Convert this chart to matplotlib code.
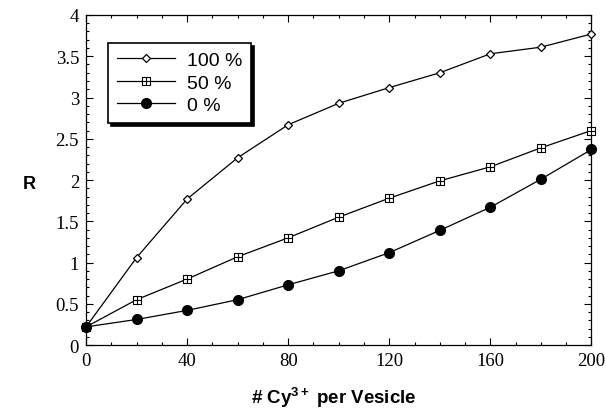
import matplotlib
matplotlib.use("Agg")
import matplotlib.pyplot as plt
from matplotlib.path import Path
from matplotlib.ticker import MultipleLocator

x = [0, 20, 40, 60, 80, 100, 120, 140, 160, 180, 200]
r100 = [0.22, 1.06, 1.77, 2.27, 2.67, 2.93, 3.12, 3.30, 3.53, 3.61, 3.77]
r50 = [0.22, 0.55, 0.80, 1.07, 1.30, 1.55, 1.78, 1.99, 2.16, 2.39, 2.60]
r0 = [0.22, 0.31, 0.42, 0.55, 0.73, 0.90, 1.12, 1.39, 1.67, 2.01, 2.37]

plt.rcParams["mathtext.fontset"] = "custom"
plt.rcParams["mathtext.rm"] = "Liberation Sans:bold"
plt.rcParams["mathtext.it"] = "Liberation Sans:bold"
plt.rcParams["mathtext.bf"] = "Liberation Sans:bold"

# square with a cross inside
boxplus = Path([(-1, -1), (1, -1), (1, 1), (-1, 1), (-1, -1), (0, -1), (0, 1), (-1, 0), (1, 0)],
               [Path.MOVETO, Path.LINETO, Path.LINETO, Path.LINETO, Path.CLOSEPOLY,
                Path.MOVETO, Path.LINETO, Path.MOVETO, Path.LINETO])

fig = plt.figure(figsize=(6.06, 4.10), dpi=100)
ax = fig.add_axes([0.142, 0.156, 0.834, 0.805])

ax.plot(x, r100, color="black", lw=0.9, marker="D", ms=4, mfc="white", mec="black", mew=0.9,
        label="100 %", clip_on=False, zorder=3)
ax.plot(x, r50, color="black", lw=0.9, marker=boxplus, ms=5.5, mfc="white", mec="black", mew=0.8,
        label="50 %", clip_on=False, zorder=3)
ax.plot(x, r0, color="black", lw=0.9, marker="o", ms=7, mfc="black", mec="black",
        label="0 %", clip_on=False, zorder=3)

ax.set_xlim(0, 200)
ax.set_ylim(0, 4)
ax.xaxis.set_major_locator(MultipleLocator(40))
ax.xaxis.set_minor_locator(MultipleLocator(10))
ax.yaxis.set_minor_locator(MultipleLocator(0.1))
ax.set_yticks([0, 0.5, 1, 1.5, 2, 2.5, 3, 3.5, 4])
ax.set_yticklabels(["0", "0.5", "1", "1.5", "2", "2.5", "3", "3.5", "4"])
ax.tick_params(which="both", direction="in", top=True, right=True, width=0.8)
ax.tick_params(which="major", length=5, labelsize=13.5, pad=5)
ax.tick_params(which="minor", length=2.5)
for lab in ax.get_xticklabels() + ax.get_yticklabels():
    lab.set_family("Liberation Serif")
for s in ax.spines.values():
    s.set_linewidth(0.9)

ax.set_xlabel("# Cy$^{3+}$ per Vesicle", fontsize=13.5, fontweight="bold", family="Liberation Sans")
ax.xaxis.set_label_coords(0.49, -0.12)
ax.set_ylabel("R", fontsize=13, fontweight="bold", family="Liberation Sans", rotation=0, va="center")
ax.yaxis.set_label_coords(-0.112, 0.49)

leg = ax.legend(loc="upper left", bbox_to_anchor=(0.025, 0.945), frameon=True, fancybox=False,
                shadow={"color": "black", "alpha": 1}, edgecolor="black", handlelength=3.0,
                numpoints=1, prop={"family": "Liberation Sans", "size": 14},
                borderpad=0.45, labelspacing=0.25, handletextpad=0.6)
leg.get_frame().set_linewidth(1.2)

fig.savefig("out.png", dpi=100)
